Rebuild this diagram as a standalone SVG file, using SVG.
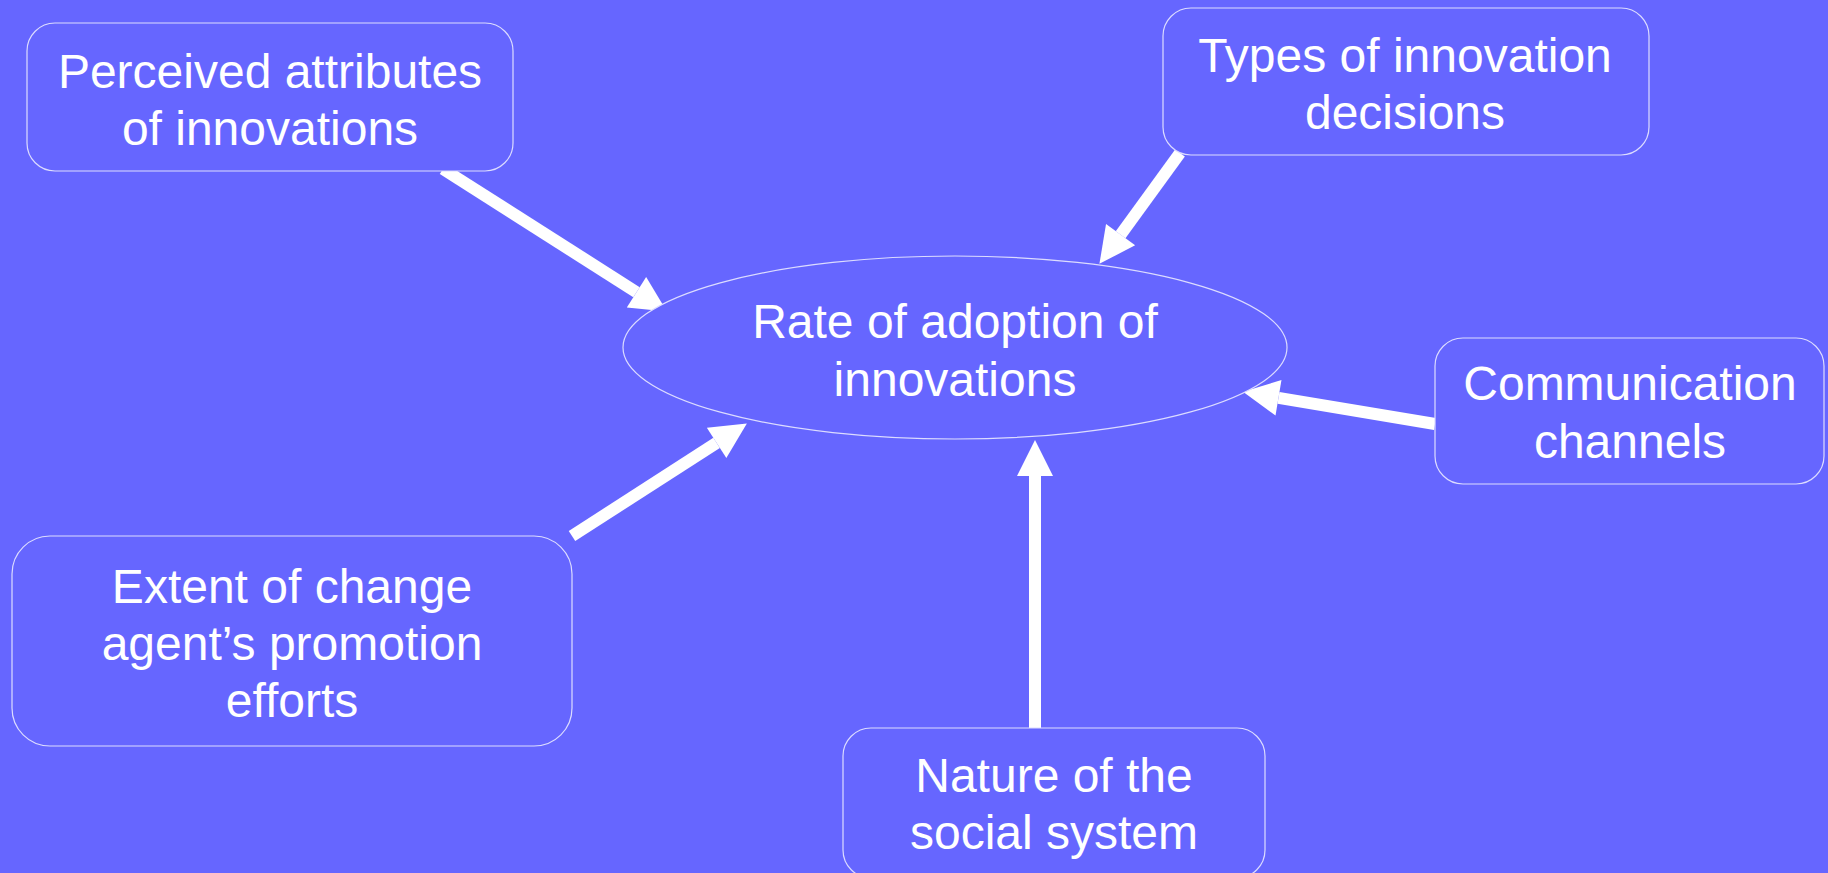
<svg xmlns="http://www.w3.org/2000/svg" width="1828" height="873" viewBox="0 0 1828 873">
  <style>
    .box { fill: #6666ff; stroke: #dcdcff; stroke-width: 1.2; }
    .lbl { font-family: "Liberation Sans", Arial, sans-serif; font-size: 48px; fill: #ffffff; text-anchor: middle; }
    .arrow { stroke: #ffffff; stroke-width: 12; fill: none; stroke-linecap: butt; marker-end: url(#head); }
  </style>
  <defs>
    <marker id="head" markerUnits="userSpaceOnUse" markerWidth="40" markerHeight="40" refX="0" refY="18" orient="auto" overflow="visible">
      <path d="M0,0 L36,18 L0,36 z" fill="#ffffff"/>
    </marker>
  </defs>

  <rect width="1828" height="873" fill="#6666ff"/>

  <!-- connectors: each shaft stops at the base of its head -->
  <g id="connectors">
    <line class="arrow" x1="443" y1="169" x2="636.5" y2="292.2"/>
    <line class="arrow" x1="1180" y1="153" x2="1120.6" y2="234.7"/>
    <line class="arrow" x1="1435" y1="424" x2="1278.5" y2="397.8"/>
    <line class="arrow" x1="572" y1="536" x2="716.6" y2="442.9"/>
    <line class="arrow" x1="1035" y1="728" x2="1035" y2="476"/>
  </g>

  <g id="rate">
    <ellipse class="box" cx="955" cy="347.5" rx="332" ry="91.5"/>
    <text class="lbl" x="955" y="338">Rate of adoption of</text>
    <text class="lbl" x="955" y="396">innovations</text>
  </g>

  <g id="perceived">
    <rect class="box" x="27" y="23" width="486" height="148" rx="28" ry="28"/>
    <text class="lbl" x="270" y="88">Perceived attributes</text>
    <text class="lbl" x="270" y="145">of innovations</text>
  </g>

  <g id="types">
    <rect class="box" x="1163" y="8" width="486" height="147" rx="28" ry="28"/>
    <text class="lbl" x="1405" y="72">Types of innovation</text>
    <text class="lbl" x="1405" y="129">decisions</text>
  </g>

  <g id="communication">
    <rect class="box" x="1435" y="338" width="389" height="146" rx="28" ry="28"/>
    <text class="lbl" x="1630" y="400">Communication</text>
    <text class="lbl" x="1630" y="458">channels</text>
  </g>

  <g id="extent">
    <rect class="box" x="12" y="536" width="560" height="210" rx="38" ry="38"/>
    <text class="lbl" x="292" y="603">Extent of change</text>
    <text class="lbl" x="292" y="660">agent’s promotion</text>
    <text class="lbl" x="292" y="717">efforts</text>
  </g>

  <g id="nature">
    <rect class="box" x="843" y="728" width="422" height="150" rx="28" ry="28"/>
    <text class="lbl" x="1054" y="792">Nature of the</text>
    <text class="lbl" x="1054" y="849">social system</text>
  </g>
</svg>
